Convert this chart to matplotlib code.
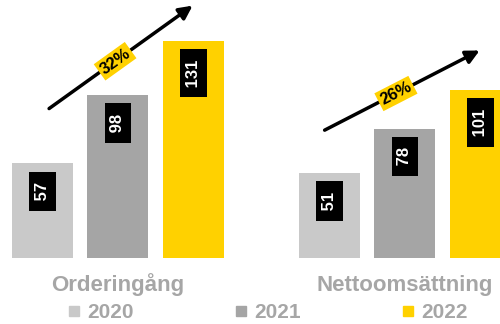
import numpy as np
import matplotlib
matplotlib.use('Agg')
import matplotlib.pyplot as plt
from matplotlib.lines import Line2D

plt.rcParams['font.family'] = ['Liberation Sans', 'DejaVu Sans']

# data
categories = ['Orderingång', 'Nettoomsättning']
years = ['2020', '2021', '2022']
values_2020 = [57, 51]
values_2021 = [98, 78]
values_2022 = [131, 101]
growth = ['32%', '26%']

# arrow ends (start / end) per group, data coords
arrow_x0 = [-0.24, -0.28]
arrow_y0 = [90, 77]
arrow_x1 = [0.26, 0.26]
arrow_y1 = [152, 125]

colors = ['#C9C9C9', '#A5A5A5', '#FFD100']
text_grey = '#A6A6A6'

fig = plt.figure(figsize=(5, 3.24), dpi=100)
ax = fig.add_axes([0, 66 / 324, 1, 258 / 324])
ax.set_xlim(-0.411, 1.331)
ax.set_ylim(0, 155.4)
ax.axis('off')

x = np.arange(len(categories))
offsets = [-0.263, 0, 0.263]
width = 0.2125
series = [values_2020, values_2021, values_2022]

for i, vals in enumerate(series):
    ax.bar(x + offsets[i], vals, width=width, color=colors[i])
    for xi, v in zip(x + offsets[i], vals):
        ax.annotate(f' {v} ', xy=(xi, v), xytext=(0, -14),
                    textcoords='offset pixels', rotation=90,
                    ha='center', va='top', color='white',
                    fontsize=12, fontweight='bold',
                    bbox=dict(boxstyle='square,pad=0.35', fc='black', ec='none'))

# growth arrows
for g in range(len(categories)):
    x0, y0 = x[g] + arrow_x0[g], arrow_y0[g]
    x1, y1 = x[g] + arrow_x1[g], arrow_y1[g]
    ax.annotate('', xy=(x1, y1), xytext=(x0, y0),
                arrowprops=dict(arrowstyle='-|>', lw=2.5, color='black',
                                mutation_scale=20, shrinkA=0, shrinkB=0),
                annotation_clip=False)
    p0 = ax.transData.transform((x0, y0))
    p1 = ax.transData.transform((x1, y1))
    ang = np.degrees(np.arctan2(p1[1] - p0[1], p1[0] - p0[0]))
    t = 0.46
    ax.text(x0 + t * (x1 - x0), y0 + t * (y1 - y0), growth[g],
            rotation=ang, rotation_mode='anchor', ha='center', va='center',
            fontsize=12, fontweight='bold', color='black',
            bbox=dict(boxstyle='square,pad=0.15', fc='#FFD100', ec='none'))

    ax.annotate(categories[g], xy=(x[g], 0), xytext=(0, -27),
                textcoords='offset pixels', ha='center', va='center',
                fontsize=16, fontweight='bold', color=text_grey,
                annotation_clip=False)

handles = [Line2D([], [], marker='s', ls='none', markersize=6.5,
                  color=c) for c in colors]
fig.legend(handles, years, loc='center', bbox_to_anchor=(0.537, 0.036),
           ncol=3, frameon=False, handlelength=0.45, handletextpad=0.38,
           columnspacing=4.95, labelcolor=text_grey, borderpad=0,
           prop={'weight': 'bold', 'size': 15})

fig.savefig('out.png', dpi=100)
